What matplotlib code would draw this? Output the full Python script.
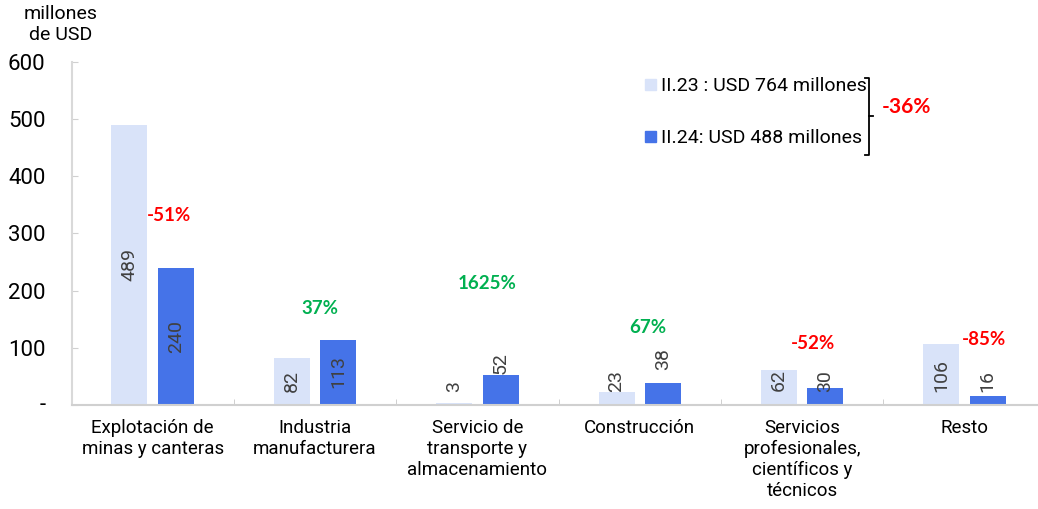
import numpy as np
import matplotlib.pyplot as plt
from matplotlib.patches import Patch
from matplotlib.lines import Line2D
import matplotlib.transforms as mtransforms

plt.rcParams['font.family'] = ['Roboto', 'DejaVu Sans']

categorias = ['Explotación de\nminas y canteras', 'Industria\nmanufacturera',
              'Servicio de\ntransporte y\nalmacenamiento', 'Construcción',
              'Servicios\nprofesionales,\ncientíficos y\ntécnicos', 'Resto']
ii23 = [489, 82, 3, 23, 62, 106]
ii24 = [240, 113, 52, 38, 30, 16]
variacion = ['-51%', '37%', '1625%', '67%', '-52%', '-85%']
tot23, tot24, tot_var = 764, 488, '-36%'

# posiciones de las etiquetas (como en el original)
lab23_y = [245, 42, 33, 42, 44, 51]
lab24_y = [120, 58, 73, 80, 42, 42]
var_x = [0.10, 0.03, 0.06, 0.05, 0.07, 0.12]
var_y = [332, 168, 213, 135, 108, 115]

c_light = '#D9E3F9'
c_dark = '#4573E8'
rojo = '#FF0000'
verde = '#00B050'

fig = plt.figure(figsize=(10.38, 5.09), dpi=100)
ax = fig.add_axes([72 / 1038, 0.2043, 966 / 1038, 0.674])

x = np.arange(len(categorias))
w = 0.222
off = 0.143
ax.bar(x - off, ii23, w, color=c_light)
ax.bar(x + off, ii24, w, color=c_dark)

for xs, vals, ys in ((x - off, ii23, lab23_y), (x + off, ii24, lab24_y)):
    for xi, v, yy in zip(xs, vals, ys):
        ax.text(xi, yy, str(v), rotation=90, ha='center', va='center',
                fontsize=14, color='#404040')

for i, t in enumerate(variacion):
    col = rojo if t.startswith('-') else verde
    ax.text(i + var_x[i], var_y[i], t, ha='center', va='center', fontsize=13.5,
            fontweight='bold', color=col, family=['Lato', 'DejaVu Sans'])

ax.set_xlim(-0.497, 5.453)
ax.set_ylim(0, 600)
ax.set_yticks([0, 100, 200, 300, 400, 500, 600])
ax.set_yticklabels(['', '100', '200', '300', '400', '500', '600'], fontsize=16)
# cero como guion
trans = mtransforms.blended_transform_factory(fig.transFigure, ax.transData)
fig.text(46 / 1038, 0, '-', transform=trans, ha='right', va='center', fontsize=16)
ax.set_xticks(x)
ax.set_xticklabels(categorias, fontsize=13.5, linespacing=1.22)
ax.set_xticks(np.arange(0.5, len(categorias) - 1, 1), minor=True)
ax.tick_params(axis='x', which='major', length=0, pad=10)
ax.tick_params(axis='x', which='minor', length=4, direction='in', color='#C8C8C8')
ax.tick_params(axis='y', length=4, direction='in', color='#D0D0D0', pad=19)
for s in ('top', 'right'):
    ax.spines[s].set_visible(False)
ax.spines['left'].set_color('#D9D9D9')
ax.spines['bottom'].set_color('#D0D0D0')
ax.spines['left'].set_linewidth(1.5)
ax.spines['bottom'].set_linewidth(1.5)

fig.text(0.058, 0.99, 'millones\nde USD', ha='center', va='top', fontsize=14,
         linespacing=1.2)

handles = [Patch(color=c_light), Patch(color=c_dark)]
labels = ['II.23 : USD %d millones' % tot23, 'II.24: USD %d millones' % tot24]
ax.legend(handles, labels, loc='upper left', bbox_to_anchor=(0.593, 0.955),
          frameon=False, fontsize=14, handlelength=0.55, handleheight=0.55,
          handletextpad=0.3, labelspacing=1.75, borderaxespad=0, borderpad=0)

# llave
bx = 869 / 1038
y1, y2, ym = 1 - 78 / 509, 1 - 155 / 509, 1 - 116 / 509
fig.add_artist(Line2D([bx - 0.004, bx, bx, bx - 0.004], [y1, y1, y2, y2],
                      color='black', lw=1.3))
fig.add_artist(Line2D([bx, bx + 0.004], [ym, ym], color='black', lw=1.3))
fig.text(906 / 1038, 1 - 107 / 509, tot_var, ha='center', va='center',
         fontsize=15, fontweight='bold', color=rojo, family=['Lato', 'DejaVu Sans'])

fig.savefig('out.png', dpi=100)
